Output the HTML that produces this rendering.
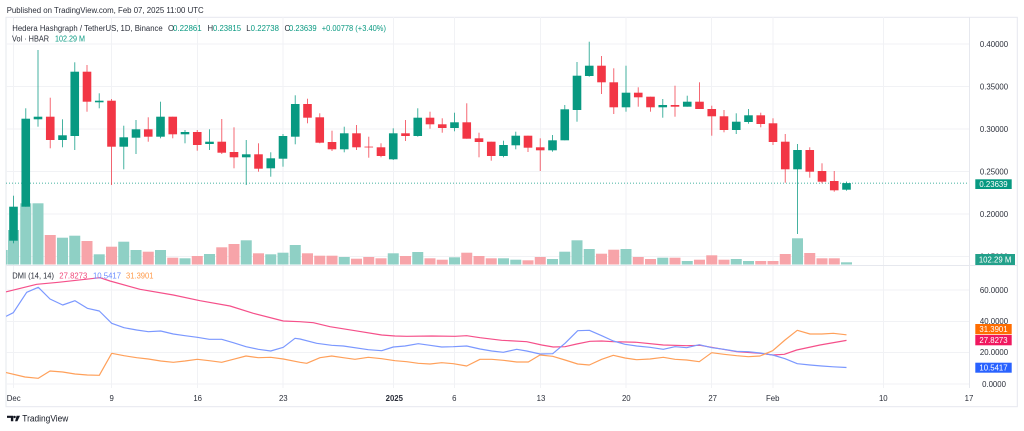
<!DOCTYPE html>
<html><head><meta charset="utf-8"><style>
html,body{margin:0;padding:0;background:#fff;width:1024px;height:431px;overflow:hidden}
svg{display:block;font-family:"Liberation Sans",sans-serif}
</style></head><body>
<svg width="1024" height="431" viewBox="0 0 1024 431" xmlns="http://www.w3.org/2000/svg">
<defs><clipPath id="pane"><rect x="6" y="17" width="963" height="371"/></clipPath></defs>
<rect width="1024" height="431" fill="#fff"/>
<text x="6.7" y="12.8" font-size="7.9" fill="#2a2e39" textLength="197" lengthAdjust="spacingAndGlyphs">Published on TradingView.com, Feb 07, 2025 11:00 UTC</text>
<!-- frame -->
<rect x="6" y="17.3" width="1011.3" height="389.4" fill="none" stroke="#e6e8ee" stroke-width="1"/>
<!-- grid -->
<g stroke="#f1f2f5" stroke-width="1">
<line x1="6" x2="969" y1="44" y2="44"/><line x1="6" x2="969" y1="86.5" y2="86.5"/><line x1="6" x2="969" y1="129" y2="129"/><line x1="6" x2="969" y1="171.5" y2="171.5"/><line x1="6" x2="969" y1="214" y2="214"/><line x1="6" x2="969" y1="256.5" y2="256.5"/>
<line x1="6" x2="969" y1="290" y2="290"/><line x1="6" x2="969" y1="321.5" y2="321.5"/><line x1="6" x2="969" y1="352.5" y2="352.5"/><line x1="6" x2="969" y1="384" y2="384"/>
<line x1="13.5" x2="13.5" y1="17" y2="388"/><line x1="111.5" x2="111.5" y1="17" y2="388"/><line x1="197.5" x2="197.5" y1="17" y2="388"/><line x1="283" x2="283" y1="17" y2="388"/><line x1="393.5" x2="393.5" y1="17" y2="388"/><line x1="454.5" x2="454.5" y1="17" y2="388"/><line x1="540.5" x2="540.5" y1="17" y2="388"/><line x1="626" x2="626" y1="17" y2="388"/><line x1="711.5" x2="711.5" y1="17" y2="388"/><line x1="773" x2="773" y1="17" y2="388"/><line x1="883.5" x2="883.5" y1="17" y2="388"/>
</g>
<line x1="969.5" x2="969.5" y1="17" y2="388" stroke="#e6e8ee"/>
<line x1="6" x2="1017" y1="265.5" y2="265.5" stroke="#e6e8ee"/>
<g clip-path="url(#pane)">
<!-- volume -->
<g fill="#8fd0c5">
<rect x="6" y="250" width="1.7" height="14.5"/>
<rect x="8" y="230" width="11" height="34.5"/><rect x="20.25" y="203.3" width="11" height="61.2"/><rect x="32.5" y="203.3" width="11" height="61.2"/><rect x="57" y="237.7" width="11" height="26.8"/><rect x="69.25" y="235.7" width="11" height="28.8"/><rect x="93.75" y="254.3" width="11" height="10.2"/><rect x="118.25" y="241.7" width="11" height="22.8"/><rect x="130.5" y="250" width="11" height="14.5"/><rect x="155" y="250" width="11" height="14.5"/><rect x="179.5" y="258.3" width="11" height="6.2"/><rect x="204" y="254" width="11" height="10.5"/><rect x="240.75" y="240.3" width="11" height="24.2"/><rect x="265.25" y="254.3" width="11" height="10.2"/><rect x="277.5" y="252.7" width="11" height="11.8"/><rect x="289.75" y="245" width="11" height="19.5"/><rect x="338.75" y="257" width="11" height="7.5"/><rect x="387.75" y="253.3" width="11" height="11.2"/><rect x="412.25" y="252" width="11" height="12.5"/><rect x="449" y="257.3" width="11" height="7.2"/><rect x="498" y="258.3" width="11" height="6.2"/><rect x="510.25" y="259.7" width="11" height="4.8"/><rect x="547" y="259" width="11" height="5.5"/><rect x="559.25" y="251.7" width="11" height="12.8"/><rect x="571.5" y="240.3" width="11" height="24.2"/><rect x="583.75" y="249" width="11" height="15.5"/><rect x="620.5" y="249" width="11" height="15.5"/><rect x="657.25" y="257.7" width="11" height="6.8"/><rect x="681.75" y="261" width="11" height="3.5"/><rect x="730.75" y="259" width="11" height="5.5"/><rect x="743" y="261" width="11" height="3.5"/><rect x="792" y="238.3" width="11" height="26.2"/><rect x="841" y="262.3" width="11" height="2.2"/>
</g>
<g fill="#f7a4a9">
<rect x="44.75" y="235" width="11" height="29.5"/><rect x="81.5" y="241" width="11" height="23.5"/><rect x="106" y="246.7" width="11" height="17.8"/><rect x="142.75" y="251.7" width="11" height="12.8"/><rect x="167.25" y="257.7" width="11" height="6.8"/><rect x="191.75" y="256" width="11" height="8.5"/><rect x="216.25" y="247.3" width="11" height="17.2"/><rect x="228.5" y="244" width="11" height="20.5"/><rect x="253" y="253.3" width="11" height="11.2"/><rect x="302" y="253.3" width="11" height="11.2"/><rect x="314.25" y="255.7" width="11" height="8.8"/><rect x="326.5" y="255.7" width="11" height="8.8"/><rect x="351" y="258.7" width="11" height="5.8"/><rect x="363.25" y="257" width="11" height="7.5"/><rect x="375.5" y="258.3" width="11" height="6.2"/><rect x="400" y="256" width="11" height="8.5"/><rect x="424.5" y="258.3" width="11" height="6.2"/><rect x="436.75" y="259.7" width="11" height="4.8"/><rect x="461.25" y="252.7" width="11" height="11.8"/><rect x="473.5" y="256" width="11" height="8.5"/><rect x="485.75" y="258.3" width="11" height="6.2"/><rect x="522.5" y="260.3" width="11" height="4.2"/><rect x="534.75" y="257" width="11" height="7.5"/><rect x="596" y="253.7" width="11" height="10.8"/><rect x="608.25" y="249.7" width="11" height="14.8"/><rect x="632.75" y="257" width="11" height="7.5"/><rect x="645" y="259" width="11" height="5.5"/><rect x="669.5" y="257.7" width="11" height="6.8"/><rect x="694" y="259.7" width="11" height="4.8"/><rect x="706.25" y="255.3" width="11" height="9.2"/><rect x="718.5" y="259.7" width="11" height="4.8"/><rect x="755.25" y="261" width="11" height="3.5"/><rect x="767.5" y="261" width="11" height="3.5"/><rect x="779.75" y="254" width="11" height="10.5"/><rect x="804.25" y="253" width="11" height="11.5"/><rect x="816.5" y="258.3" width="11" height="6.2"/><rect x="828.75" y="258.3" width="11" height="6.2"/>
</g>
<!-- price line -->
<line x1="6" x2="969" y1="183.1" y2="183.1" stroke="#089981" stroke-width="0.8" stroke-dasharray="1,2"/>
<!-- green candles -->
<g fill="#089981">
<g opacity="0.75">
<rect x="13" y="195.7" width="1" height="47.6"/><rect x="25.25" y="108.3" width="1" height="98.4"/><rect x="37.5" y="50" width="1" height="76.7"/><rect x="62" y="119.3" width="1" height="28"/><rect x="74.25" y="62.3" width="1" height="87.7"/><rect x="98.75" y="93.3" width="1" height="15"/><rect x="123.25" y="125.7" width="1" height="43.6"/><rect x="135.5" y="120" width="1" height="34"/><rect x="160" y="101.7" width="1" height="36.6"/><rect x="184.5" y="130" width="1" height="13.3"/><rect x="209" y="129.3" width="1" height="20.7"/><rect x="245.75" y="140" width="1" height="45"/><rect x="270.25" y="152.3" width="1" height="24.4"/><rect x="282.5" y="134" width="1" height="32.7"/><rect x="294.75" y="95.3" width="1" height="49"/><rect x="343.75" y="126.7" width="1" height="25.6"/><rect x="392.75" y="128.3" width="1" height="31.7"/><rect x="417.25" y="108.3" width="1" height="28.4"/><rect x="454" y="112.7" width="1" height="18.6"/><rect x="503" y="140.7" width="1" height="16.6"/><rect x="515.25" y="131.7" width="1" height="17.6"/><rect x="552" y="135" width="1" height="16.7"/><rect x="564.25" y="105" width="1" height="35.3"/><rect x="576.5" y="62" width="1" height="59.7"/><rect x="588.75" y="41.7" width="1" height="35"/><rect x="625.5" y="65.7" width="1" height="46"/><rect x="662.25" y="99" width="1" height="18.7"/><rect x="686.75" y="95.7" width="1" height="11"/><rect x="735.75" y="113.3" width="1" height="20.7"/><rect x="748" y="109" width="1" height="14.7"/><rect x="797" y="144" width="1" height="90"/><rect x="846" y="181.6" width="1" height="9.1"/>
</g>
<rect x="9.2" y="206.7" width="8.6" height="34"/><rect x="21.45" y="118.7" width="8.6" height="88"/><rect x="33.7" y="116.7" width="8.6" height="2.6"/><rect x="58.2" y="135.3" width="8.6" height="4.7"/><rect x="70.45" y="71.7" width="8.6" height="64.3"/><rect x="94.95" y="100.7" width="8.6" height="1.6"/><rect x="119.45" y="137.3" width="8.6" height="9.4"/><rect x="131.7" y="129.3" width="8.6" height="8.4"/><rect x="156.2" y="116.7" width="8.6" height="20"/><rect x="180.7" y="132" width="8.6" height="2.3"/><rect x="205.2" y="141.7" width="8.6" height="2.3"/><rect x="241.95" y="154.3" width="8.6" height="3"/><rect x="266.45" y="158.3" width="8.6" height="10"/><rect x="278.7" y="136" width="8.6" height="22.7"/><rect x="290.95" y="104" width="8.6" height="32.7"/><rect x="339.95" y="133.3" width="8.6" height="16"/><rect x="388.95" y="133.3" width="8.6" height="26"/><rect x="413.45" y="117.7" width="8.6" height="18.3"/><rect x="450.2" y="122.3" width="8.6" height="5.7"/><rect x="499.2" y="145" width="8.6" height="11"/><rect x="511.45" y="135.7" width="8.6" height="9.6"/><rect x="548.2" y="140.3" width="8.6" height="10"/><rect x="560.45" y="109.3" width="8.6" height="31"/><rect x="572.7" y="75.7" width="8.6" height="34.3"/><rect x="584.95" y="65.7" width="8.6" height="10.3"/><rect x="621.7" y="92.7" width="8.6" height="14.6"/><rect x="658.45" y="105" width="8.6" height="2.3"/><rect x="682.95" y="101.7" width="8.6" height="5"/><rect x="731.95" y="121.7" width="8.6" height="8.3"/><rect x="744.2" y="115.3" width="8.6" height="6.7"/><rect x="793.2" y="150" width="8.6" height="19.3"/><rect x="842.2" y="183.1" width="8.6" height="6.6"/>
</g>
<!-- red candles -->
<g fill="#f23645">
<g opacity="0.75">
<rect x="49.75" y="97.7" width="1" height="50.6"/><rect x="86.5" y="65" width="1" height="46.7"/><rect x="111" y="99" width="1" height="86"/><rect x="147.75" y="117.3" width="1" height="24.4"/><rect x="172.25" y="116.7" width="1" height="21.6"/><rect x="196.75" y="130" width="1" height="20.7"/><rect x="221.25" y="119" width="1" height="35"/><rect x="233.5" y="127.3" width="1" height="41"/><rect x="258" y="143.3" width="1" height="28.4"/><rect x="307" y="98.7" width="1" height="24.6"/><rect x="319.25" y="113.3" width="1" height="30"/><rect x="331.5" y="130.7" width="1" height="20.3"/><rect x="356" y="125" width="1" height="25"/><rect x="368.25" y="136.7" width="1" height="21"/><rect x="380.5" y="143.3" width="1" height="14"/><rect x="405" y="120" width="1" height="21"/><rect x="429.5" y="111.7" width="1" height="17"/><rect x="441.75" y="118.3" width="1" height="14.4"/><rect x="466.25" y="103.3" width="1" height="35.4"/><rect x="478.5" y="132.7" width="1" height="24.6"/><rect x="490.75" y="141.7" width="1" height="19"/><rect x="527.5" y="135.7" width="1" height="16.3"/><rect x="539.75" y="138.3" width="1" height="32.7"/><rect x="601" y="56" width="1" height="38"/><rect x="613.25" y="68.3" width="1" height="45.7"/><rect x="637.75" y="87.3" width="1" height="19.4"/><rect x="650" y="96.7" width="1" height="15"/><rect x="674.5" y="85.7" width="1" height="31"/><rect x="699" y="82.3" width="1" height="26.7"/><rect x="711.25" y="105.7" width="1" height="30"/><rect x="723.5" y="110" width="1" height="22.3"/><rect x="760.25" y="112.7" width="1" height="14.6"/><rect x="772.5" y="118.3" width="1" height="26.7"/><rect x="784.75" y="134" width="1" height="48.7"/><rect x="809.25" y="147.3" width="1" height="30.4"/><rect x="821.5" y="163.3" width="1" height="20"/><rect x="833.75" y="171" width="1" height="20.7"/>
</g>
<rect x="45.95" y="116.7" width="8.6" height="23.3"/><rect x="82.7" y="71.7" width="8.6" height="30"/><rect x="107.2" y="100.7" width="8.6" height="46"/><rect x="143.95" y="129.3" width="8.6" height="7.4"/><rect x="168.45" y="116.7" width="8.6" height="17.6"/><rect x="192.95" y="132" width="8.6" height="13"/><rect x="217.45" y="141.7" width="8.6" height="11"/><rect x="229.7" y="152" width="8.6" height="5.3"/><rect x="254.2" y="154.3" width="8.6" height="14.4"/><rect x="303.2" y="104" width="8.6" height="13.7"/><rect x="315.45" y="117.3" width="8.6" height="25.4"/><rect x="327.7" y="142" width="8.6" height="7.3"/><rect x="352.2" y="133.3" width="8.6" height="14"/><rect x="364.45" y="146.4" width="8.6" height="1.3" opacity="0.6"/><rect x="376.7" y="147.3" width="8.6" height="8.7"/><rect x="401.2" y="133.3" width="8.6" height="2.7"/><rect x="425.7" y="117.7" width="8.6" height="6.6"/><rect x="437.95" y="124.3" width="8.6" height="3.7"/><rect x="462.45" y="122.3" width="8.6" height="16.4"/><rect x="474.7" y="138.3" width="8.6" height="3.7"/><rect x="486.95" y="141.7" width="8.6" height="14.3"/><rect x="523.7" y="135.7" width="8.6" height="12"/><rect x="535.95" y="147.3" width="8.6" height="3"/><rect x="597.2" y="65.7" width="8.6" height="16.6"/><rect x="609.45" y="82.3" width="8.6" height="25"/><rect x="633.95" y="92.7" width="8.6" height="4.6"/><rect x="646.2" y="96.7" width="8.6" height="10.6"/><rect x="670.7" y="105" width="8.6" height="1.7"/><rect x="695.2" y="101.7" width="8.6" height="7.3"/><rect x="707.45" y="109" width="8.6" height="7.3"/><rect x="719.7" y="116.3" width="8.6" height="13.7"/><rect x="756.45" y="115.3" width="8.6" height="8.7"/><rect x="768.7" y="123.3" width="8.6" height="18.7"/><rect x="780.95" y="141.7" width="8.6" height="27.6"/><rect x="805.45" y="150" width="8.6" height="21.7"/><rect x="817.7" y="171" width="8.6" height="10.7"/><rect x="829.95" y="181" width="8.6" height="9.3"/>
</g>
<!-- DMI lines -->
<g fill="none" stroke-width="1.2" stroke-linejoin="round">
<polyline stroke="#f5508a" points="6,291.9 6.7,291.7 36.7,284.3 58.3,282.3 100,277.7 110,281 140,289.3 173.3,295 200,300.7 230,306 253.3,313.3 283.3,321 300,321.7 313.3,322.7 330,326.7 355,330.7 381.7,335 395,336 406.7,336.3 431.7,336 455,336.3 466.7,335.7 480,337.7 501.7,340.3 526.7,341.7 541.7,345 553.3,347 565,346.7 576.7,344 590,341.3 601.7,341 613.3,341.7 636.7,342.3 663.3,345 686.7,345.7 700,345.3 711.7,347.3 736.7,351.7 760,353.3 772.7,355 784.3,354.3 796.7,350 820,345 846.5,340.4"/>
<polyline stroke="#7b98ff" points="6,316.3 6.7,316 13.3,312.7 26.7,292.3 38.3,287.3 50,299 62.7,305 75,300.7 87.3,308.3 99.3,311 111.7,323.3 124,327.7 136.7,330 148.3,331.7 160.7,331 173.3,334 185,335.7 197.3,337.3 209.3,339.3 221.7,339.3 233.3,342.7 246,346.7 258.3,349.3 270.7,351 283.3,347.3 295,338.3 300,339 316.7,343.3 331.7,345.3 343.3,346 368.3,349.7 381.7,350.7 393.3,347 405,346 418.3,343.7 430,345.3 441.7,347 453.3,346.7 466.7,346 480,349 491.7,351 503.3,352.3 516.7,349.3 526.7,351 540,354 552.7,353.7 565,343.3 577.7,330.7 589.3,330.3 601.7,335.7 613.3,341 625,344.3 636.7,346 650,347.3 663.3,349.3 675,346.7 686.7,347.7 699.3,344.7 711.7,347.7 724,349.3 736.7,351.3 748.3,351.7 760,353 772.7,355 785,358.7 797.3,363.7 810,365 821.7,366 833.3,366.8 846.5,367.5"/>
<polyline stroke="#ffa05a" points="6,372.5 6.7,372.7 25,377 38.3,378.3 50,371 62.7,372 75,374 87.3,375 99.3,375.3 111.7,353.3 124,355.7 136.7,357.7 148.3,359 160.7,361 173.3,362.3 185,361 197.3,359.3 209.3,360.7 221.7,362.3 233.3,359.3 246,356 258.3,357.7 270.7,357.3 283.3,359 300,362.3 306.7,363.3 320,357.7 331.7,356 343.3,357.7 355,359.3 368.3,357.3 381.7,358.7 395,360.7 406.7,361.7 418.3,363.3 430,364 441.7,362.7 453.3,363.7 466.7,366 480,359.3 491.7,359.3 503.3,360.3 516.7,362 528.3,362 540,355 552.7,356.3 565,360 577.7,364 589.3,365 601.7,359.3 613.3,355.3 625,358 636.7,359.7 650,359 663.3,357.3 675,359.3 686.7,360 699.3,361.7 711.7,352.7 724,354.3 736.7,355.7 748.3,356.7 760,356 772.7,350.7 785,340 797.3,330.3 810,334 821.7,334 833.3,333.3 846.5,334.8"/>
</g>
</g>
<!-- legends -->
<g font-size="7.8" fill="#2a2e39">
<text x="12.3" y="30.8" textLength="150.4" lengthAdjust="spacingAndGlyphs">Hedera Hashgraph / TetherUS, 1D, Binance</text>
<text x="168" y="30.8">O</text><text x="173" y="30.8" fill="#089981" textLength="28.7" lengthAdjust="spacingAndGlyphs">0.22861</text>
<text x="207.5" y="30.8">H</text><text x="213" y="30.8" fill="#089981" textLength="28" lengthAdjust="spacingAndGlyphs">0.23815</text>
<text x="246.3" y="30.8">L</text><text x="250.7" y="30.8" fill="#089981" textLength="28.3" lengthAdjust="spacingAndGlyphs">0.22738</text>
<text x="284.5" y="30.8">C</text><text x="289" y="30.8" fill="#089981" textLength="27.7" lengthAdjust="spacingAndGlyphs">0.23639</text>
<text x="321.7" y="30.8" fill="#089981" textLength="64.3" lengthAdjust="spacingAndGlyphs">+0.00778 (+3.40%)</text>
<text x="12" y="41.5" textLength="37" lengthAdjust="spacingAndGlyphs">Vol · HBAR</text>
<text x="55" y="41.5" fill="#089981" textLength="30" lengthAdjust="spacingAndGlyphs">102.29 M</text>
<text x="12.3" y="278.5" textLength="41.7" lengthAdjust="spacingAndGlyphs">DMI (14, 14)</text>
<text x="59.3" y="278.5" fill="#f0487a" textLength="28" lengthAdjust="spacingAndGlyphs">27.8273</text>
<text x="93" y="278.5" fill="#6b8cff" textLength="28" lengthAdjust="spacingAndGlyphs">10.5417</text>
<text x="126" y="278.5" fill="#ff9a4a" textLength="27.5" lengthAdjust="spacingAndGlyphs">31.3901</text>
</g>
<!-- price axis -->
<g font-size="7.8" fill="#2a2e39" text-anchor="middle">
<text x="994" y="46.8">0.40000</text><text x="994" y="89.3">0.35000</text><text x="994" y="131.8">0.30000</text><text x="994" y="174.3">0.25000</text><text x="994" y="216.8">0.20000</text><text x="994" y="259.3">0.15000</text>
<text x="994" y="292.8">60.0000</text><text x="994" y="323.8">40.0000</text><text x="994" y="355.1">20.0000</text><text x="994" y="386.8">0.0000</text>
</g>
<rect x="975.3" y="179.3" width="36.4" height="9.7" fill="#089981"/>
<text x="993.5" y="187" font-size="7.8" fill="#fff" text-anchor="middle">0.23639</text>
<rect x="975.3" y="254" width="39.7" height="11" fill="#22a08a"/>
<text x="995.1" y="262.3" font-size="7.8" fill="#fff" text-anchor="middle">102.29 M</text>
<rect x="975.3" y="324" width="36.4" height="10.3" fill="#ff6d00"/>
<text x="993.5" y="332" font-size="7.8" fill="#fff" text-anchor="middle">31.3901</text>
<rect x="975.3" y="335" width="36.4" height="10.3" fill="#f0185f"/>
<text x="993.5" y="343" font-size="7.8" fill="#fff" text-anchor="middle">27.8273</text>
<rect x="975.3" y="362.7" width="36.4" height="10" fill="#2962ff"/>
<text x="993.5" y="370.5" font-size="7.8" fill="#fff" text-anchor="middle">10.5417</text>
<!-- time axis -->
<g font-size="7.8" fill="#2a2e39" text-anchor="middle">
<text x="13.7" y="401">Dec</text><text x="111.7" y="401">9</text><text x="197.7" y="401">16</text><text x="283.3" y="401">23</text>
<text x="394.3" y="401" font-weight="bold">2025</text><text x="454.3" y="401">6</text><text x="541" y="401">13</text><text x="626.3" y="401">20</text><text x="712.7" y="401">27</text><text x="772.7" y="401">Feb</text><text x="883.3" y="401">10</text><text x="969" y="401">17</text>
</g>
<!-- logo -->
<g fill="#131722">
<path d="M7 415.7h6.3v5.5h-2.4v-3.3H7z"/>
<circle cx="14.6" cy="417" r="1.2"/>
<path d="M16.6 415.7h3.4l-2.6 5.5h-2.3z"/>
</g>
<text x="22.3" y="421.4" font-size="9" fill="#131722" textLength="46" lengthAdjust="spacingAndGlyphs">TradingView</text>
</svg>
</body></html>
